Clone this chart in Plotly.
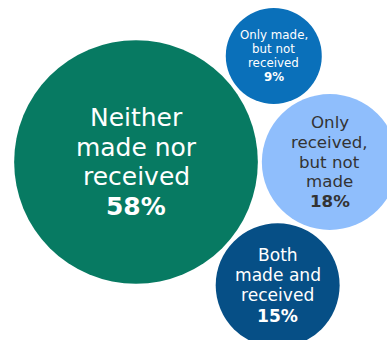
import math
import plotly.graph_objects as go

# Survey result shares (percent)
categories = [
    "Neither made nor received",
    "Only received, but not made",
    "Only made, but not received",
    "Both made and received",
]
values = [58, 18, 9, 15]
label_lines = [
    ["Neither", "made nor", "received"],
    ["Only", "received,", "but not", "made"],
    ["Only made,", "but not", "received"],
    ["Both", "made and", "received"],
]

colors = ["#077A62", "#8FBEFC", "#0A70BA", "#064F86"]
text_colors = ["#FFFFFF", "#333333", "#FFFFFF", "#FFFFFF"]
line_heights = [29.5, 19.8, 14.2, 20.3]
FONT = "DejaVu Sans, Noto Sans, sans-serif"
FONT_EM = 1.165    # line box height of the font, in em

W, H = 387, 340
PX = 16.0          # pixels per unit radius
GAP = 0.25         # spacing between neighbouring bubbles (units)
ORIGIN = (136, 162)  # pixel position of the largest bubble's centre

radii = [math.sqrt(v) for v in values]


def tangent_to_two(ca, ra, cb, rb, r, upper=True):
    """Centre of a circle of radius r touching circles a and b (with gap)."""
    da = ra + r + GAP
    db = rb + r + GAP
    dx, dy = cb[0] - ca[0], cb[1] - ca[1]
    d = math.hypot(dx, dy)
    a = (da ** 2 - db ** 2 + d ** 2) / (2 * d)
    h = math.sqrt(max(da ** 2 - a ** 2, 0))
    ux, uy = dx / d, dy / d
    px, py = ca[0] + a * ux, ca[1] + a * uy
    s = 1 if upper else -1
    return (px - s * h * uy, py + s * h * ux)


# Pack: big bubble at origin, second bubble to its right,
# then the remaining two nest above and below between them.
centres = [(0.0, 0.0)]
centres.append((radii[0] + radii[1] + GAP, 0.0))
centres.append(tangent_to_two(centres[0], radii[0], centres[1], radii[1], radii[2], upper=True))
centres.append(tangent_to_two(centres[0], radii[0], centres[1], radii[1], radii[3], upper=False))

xs = [c[0] for c in centres]
ys = [c[1] for c in centres]

# plotly area sizing: diameter = sqrt(2 * value / sizeref)
fig = go.Figure(
    go.Scatter(
        x=xs,
        y=ys,
        mode="markers",
        marker=dict(
            size=values,
            sizemode="area",
            sizeref=2.0 / (2 * PX) ** 2,
            color=colors,
            line=dict(width=0),
            opacity=1,
        ),
        text=categories,
        hovertemplate="%{text}: %{marker.size}%<extra></extra>",
        cliponaxis=True,
    )
)

annotations = []
for i, (lines, v) in enumerate(zip(label_lines, values)):
    all_lines = lines + [f"<b>{v}%</b>"]
    n = len(all_lines)
    mid = (n - 1) / 2
    size = (line_heights[i] - 0.4) / FONT_EM
    for j, t in enumerate(all_lines):
        annotations.append(
            dict(
                x=xs[i],
                y=ys[i],
                xref="x",
                yref="y",
                text=t,
                showarrow=False,
                xanchor="center",
                yanchor="middle",
                borderpad=0,
                yshift=(mid - j) * line_heights[i],
                font=dict(family=FONT, size=size, color=text_colors[i]),
            )
        )

x0, y0 = ORIGIN
fig.update_layout(
    width=W,
    height=H,
    margin=dict(l=0, r=0, t=0, b=0),
    paper_bgcolor="white",
    plot_bgcolor="white",
    showlegend=False,
    annotations=annotations,
    xaxis=dict(
        range=[-x0 / PX, (W - x0) / PX],
        visible=False,
        fixedrange=True,
    ),
    yaxis=dict(
        range=[-(H - y0) / PX, y0 / PX],
        visible=False,
        fixedrange=True,
    ),
)

fig.write_html("out.html")
